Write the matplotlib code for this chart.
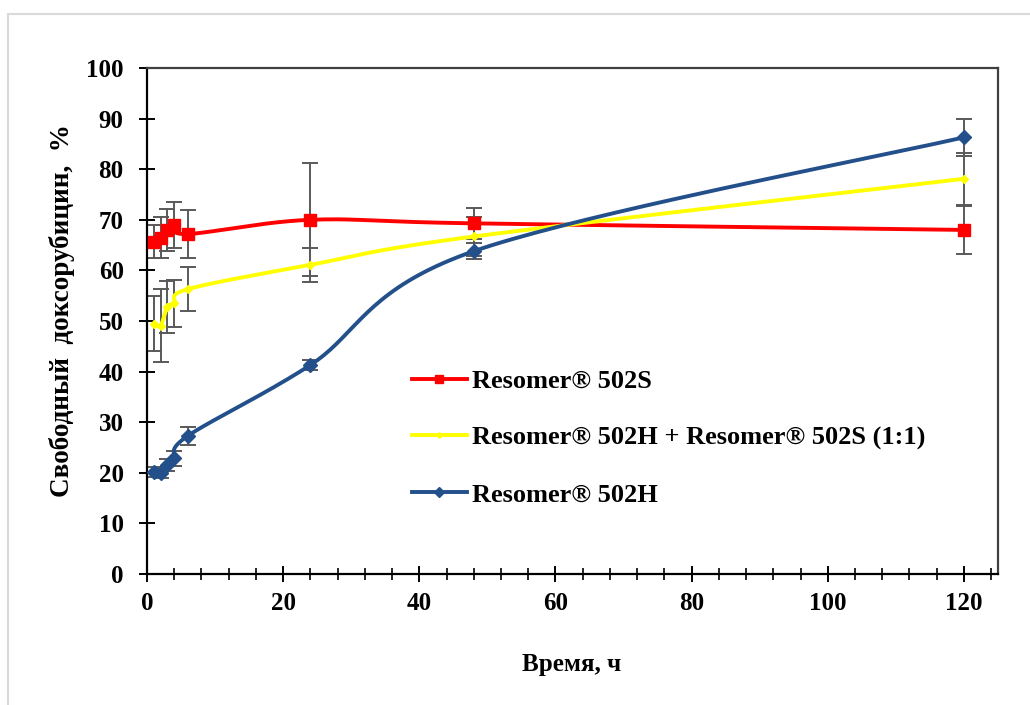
import numpy as np
import matplotlib
matplotlib.use("Agg")
import matplotlib.pyplot as plt
from matplotlib.patches import Rectangle
from matplotlib.lines import Line2D
from matplotlib.ticker import MultipleLocator

# ---- data ----
time_h = [1, 2, 3, 4, 6, 24, 48, 120]
s502 = [65.7, 66.5, 68.0, 69.0, 67.2, 70.0, 69.3, 68.0]
s502_err = [3.3, 4.1, 4.2, 4.5, 4.7, 11.2, 3.0, 4.8]
mix = [49.5, 49.1, 52.8, 53.5, 56.3, 61.1, 66.7, 78.1]
mix_err = [5.5, 7.3, 5.1, 4.6, 4.3, 3.3, 3.8, 5.2]
h502 = [20.2, 20.0, 21.5, 22.9, 27.3, 41.3, 63.8, 86.3]
h502_err = [1.0, 1.0, 1.2, 1.5, 1.8, 1.0, 1.6, 3.7]

labels = ["Resomer® 502S", "Resomer® 502H + Resomer® 502S (1:1)", "Resomer® 502H"]
colors = ["#FF0000", "#FFFF00", "#23508A"]
markers = ["s", "D", "D"]
msizes = [8.5, 4, 7.5]
xlabel = "Время, ч"
ylabel = "Свободный  доксорубицин,  %"

FONT = "Liberation Serif"
FS = 18


def smooth(x, y, n=40):
    """Excel-like smoothed line: cubic Bezier with Catmull-Rom control points."""
    x = np.asarray(x, float)
    y = np.asarray(y, float)
    P = np.column_stack([x, y])
    out = []
    m = len(P)
    t = np.linspace(0, 1, n)
    for i in range(m - 1):
        p0 = P[i - 1] if i > 0 else P[i]
        p1 = P[i]
        p2 = P[i + 1]
        p3 = P[i + 2] if i + 2 < m else P[i + 1]
        c1 = p1 + (p2 - p0) / 6.0
        c2 = p2 - (p3 - p1) / 6.0
        seg = ((1 - t) ** 3)[:, None] * p1 + (3 * (1 - t) ** 2 * t)[:, None] * c1 \
            + (3 * (1 - t) * t ** 2)[:, None] * c2 + (t ** 3)[:, None] * p2
        out.append(seg if i == 0 else seg[1:])
    arr = np.vstack(out)
    return arr[:, 0], arr[:, 1]


fig = plt.figure(figsize=(10.3, 7.05), dpi=100)
ax = fig.add_axes([147 / 1030, 1 - 574 / 705, (998 - 147) / 1030, (574 - 68) / 705])

# outer frame
fig.patches.append(Rectangle((8 / 1030, -0.1), 1.2, 1.1 - 14 / 705,
                             transform=fig.transFigure, fill=False,
                             edgecolor="#d9d9d9", linewidth=1.5, zorder=0))

series = [(s502, s502_err), (mix, mix_err), (h502, h502_err)]
handles = []
for (vals, errs), c, mk, ms, lab in zip(series, colors, markers, msizes, labels):
    ax.errorbar(time_h, vals, yerr=errs, fmt="none", ecolor="#595959",
                elinewidth=1.4, capsize=5.5, capthick=1.4, zorder=2)
    sx, sy = smooth(time_h, vals)
    ax.plot(sx, sy, color=c, lw=2.8, zorder=3, solid_capstyle="round")
    ax.plot(time_h, vals, linestyle="none", marker=mk, color=c, ms=ms, zorder=4)
    handles.append(Line2D([], [], color=c, lw=2.8, marker=mk, ms=ms * 0.7, label=lab))

ax.set_xlim(0, 125)
ax.set_ylim(0, 100)
ax.xaxis.set_major_locator(MultipleLocator(20))
ax.xaxis.set_minor_locator(MultipleLocator(4))
ax.yaxis.set_major_locator(MultipleLocator(10))

ax.tick_params(axis="y", which="major", direction="inout", length=11.5, width=1.4,
               pad=11, labelsize=FS)
ax.tick_params(axis="x", which="major", direction="inout", length=12, width=1.4,
               pad=7, labelsize=FS)
ax.tick_params(axis="x", which="minor", direction="inout", length=8.5, width=1.2)
for lab in ax.get_xticklabels() + ax.get_yticklabels():
    lab.set_fontfamily(FONT)
    lab.set_fontweight("bold")

for side in ["left", "bottom"]:
    ax.spines[side].set_color("black")
    ax.spines[side].set_linewidth(1.6)
for side in ["top", "right"]:
    ax.spines[side].set_color("#404040")
    ax.spines[side].set_linewidth(1.6)

fig.text(572 / 1030, 1 - 665 / 705, xlabel, ha="center", va="center",
         fontsize=FS, fontweight="bold", family=FONT)
fig.text(62 / 1030, 1 - 311 / 705, ylabel, ha="center", va="center", rotation=90,
         fontsize=19.5, fontweight="bold", family=FONT)

leg = ax.legend(handles=handles, loc="center left", bbox_to_anchor=(0.311, 0.269),
                frameon=False, borderpad=0, borderaxespad=0, handlelength=2.1,
                handletextpad=0.2, labelspacing=1.25,
                prop={"family": FONT, "weight": "bold", "size": 19})

fig.savefig("out.png", dpi=100)
